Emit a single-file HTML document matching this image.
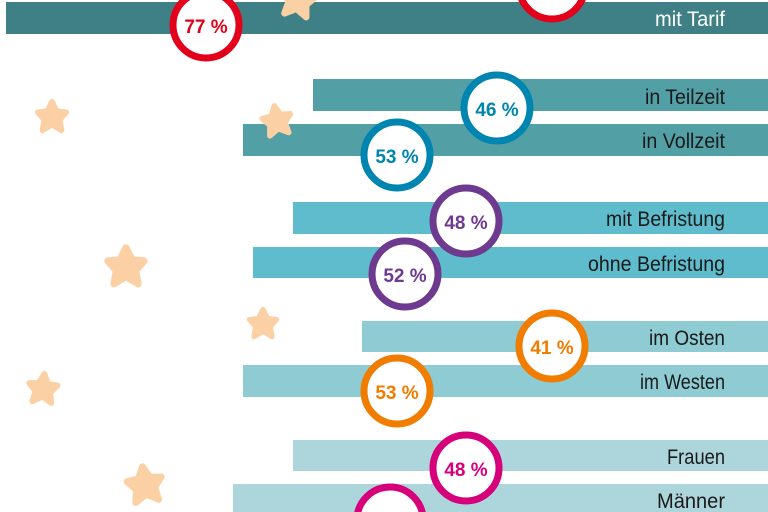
<!DOCTYPE html>
<html><head><meta charset="utf-8"><style>
html,body{margin:0;padding:0;background:#fff;width:768px;height:512px;overflow:hidden;}
svg{display:block}
text{font-family:"Liberation Sans Narrow","Liberation Sans",sans-serif;}
</style></head><body>
<svg width="768" height="512" viewBox="0 0 768 512" xmlns="http://www.w3.org/2000/svg" overflow="hidden">
<defs>
<path id="st" d="M0,-16 L5,-6 L15,-5 L8,3 L10,14 L0,8 L-10,14 L-8,3 L-15,-5 L-5,-6 Z" fill="#fcd0a5" stroke="#fcd0a5" stroke-width="6" stroke-linejoin="round"/>
</defs>
<rect x="6" y="2" width="762" height="32" fill="#3f8086"/>
<rect x="313" y="79" width="455" height="32" fill="#529fa6"/>
<rect x="243" y="124" width="525" height="32" fill="#529fa6"/>
<rect x="293" y="202" width="475" height="32" fill="#5fbccc"/>
<rect x="253" y="247" width="515" height="31" fill="#5fbccc"/>
<rect x="362" y="321" width="406" height="31" fill="#8ecbd3"/>
<rect x="243" y="365" width="525" height="32" fill="#8ecbd3"/>
<rect x="293" y="440" width="475" height="31" fill="#acd6dc"/>
<rect x="233" y="484" width="535" height="28" fill="#acd6dc"/>
<use href="#st" transform="translate(298,0) rotate(10) scale(1.1)"/>
<use href="#st" transform="translate(52,117) scale(0.95)"/>
<use href="#st" transform="translate(277,121) rotate(-10) scale(0.95)"/>
<use href="#st" transform="translate(126,267) scale(1.2)"/>
<use href="#st" transform="translate(263,324) scale(0.9)"/>
<use href="#st" transform="translate(43,389) rotate(5) scale(0.95)"/>
<use href="#st" transform="translate(145,485) rotate(-8) scale(1.15)"/>
<g font-size="21" text-anchor="end" fill="#1a1a1a" lengthAdjust="spacingAndGlyphs">
<text x="725" y="26" fill="#fff" textLength="70" lengthAdjust="spacingAndGlyphs">mit Tarif</text>
<text x="725" y="104" textLength="80" lengthAdjust="spacingAndGlyphs">in Teilzeit</text>
<text x="725" y="148" textLength="83" lengthAdjust="spacingAndGlyphs">in Vollzeit</text>
<text x="725" y="226" textLength="119" lengthAdjust="spacingAndGlyphs">mit Befristung</text>
<text x="725" y="271" textLength="137" lengthAdjust="spacingAndGlyphs">ohne Befristung</text>
<text x="725" y="345" textLength="76" lengthAdjust="spacingAndGlyphs">im Osten</text>
<text x="725" y="389" textLength="85" lengthAdjust="spacingAndGlyphs">im Westen</text>
<text x="725" y="464" textLength="58" lengthAdjust="spacingAndGlyphs">Frauen</text>
<text x="725" y="508" textLength="68" lengthAdjust="spacingAndGlyphs">Männer</text>
</g>
<g stroke-width="7" fill="#fff">
<circle cx="552" cy="-14" r="33" stroke="#e2001a"/>
<circle cx="206" cy="25" r="33" stroke="#e2001a"/>
<circle cx="497" cy="108" r="33" stroke="#0085b0"/>
<circle cx="397" cy="155" r="33" stroke="#0085b0"/>
<circle cx="466" cy="221" r="33" stroke="#6d3a8f"/>
<circle cx="405" cy="274" r="33" stroke="#6d3a8f"/>
<circle cx="552" cy="346" r="33" stroke="#f07c00"/>
<circle cx="397" cy="391" r="33" stroke="#f07c00"/>
<circle cx="466" cy="468" r="33" stroke="#d6007a"/>
<circle cx="390" cy="520" r="33" stroke="#d6007a"/>
</g>
<g font-size="19" text-anchor="middle" font-weight="bold">
<text x="206" y="33" fill="#e2001a">77 %</text>
<text x="497" y="116" fill="#0085b0">46 %</text>
<text x="397" y="163" fill="#0085b0">53 %</text>
<text x="466" y="229" fill="#6d3a8f">48 %</text>
<text x="405" y="282" fill="#6d3a8f">52 %</text>
<text x="552" y="354" fill="#f07c00">41 %</text>
<text x="397" y="399" fill="#f07c00">53 %</text>
<text x="466" y="476" fill="#d6007a">48 %</text>
<text x="390" y="528" fill="#d6007a">56 %</text>
</g>
</svg>
</body></html>
